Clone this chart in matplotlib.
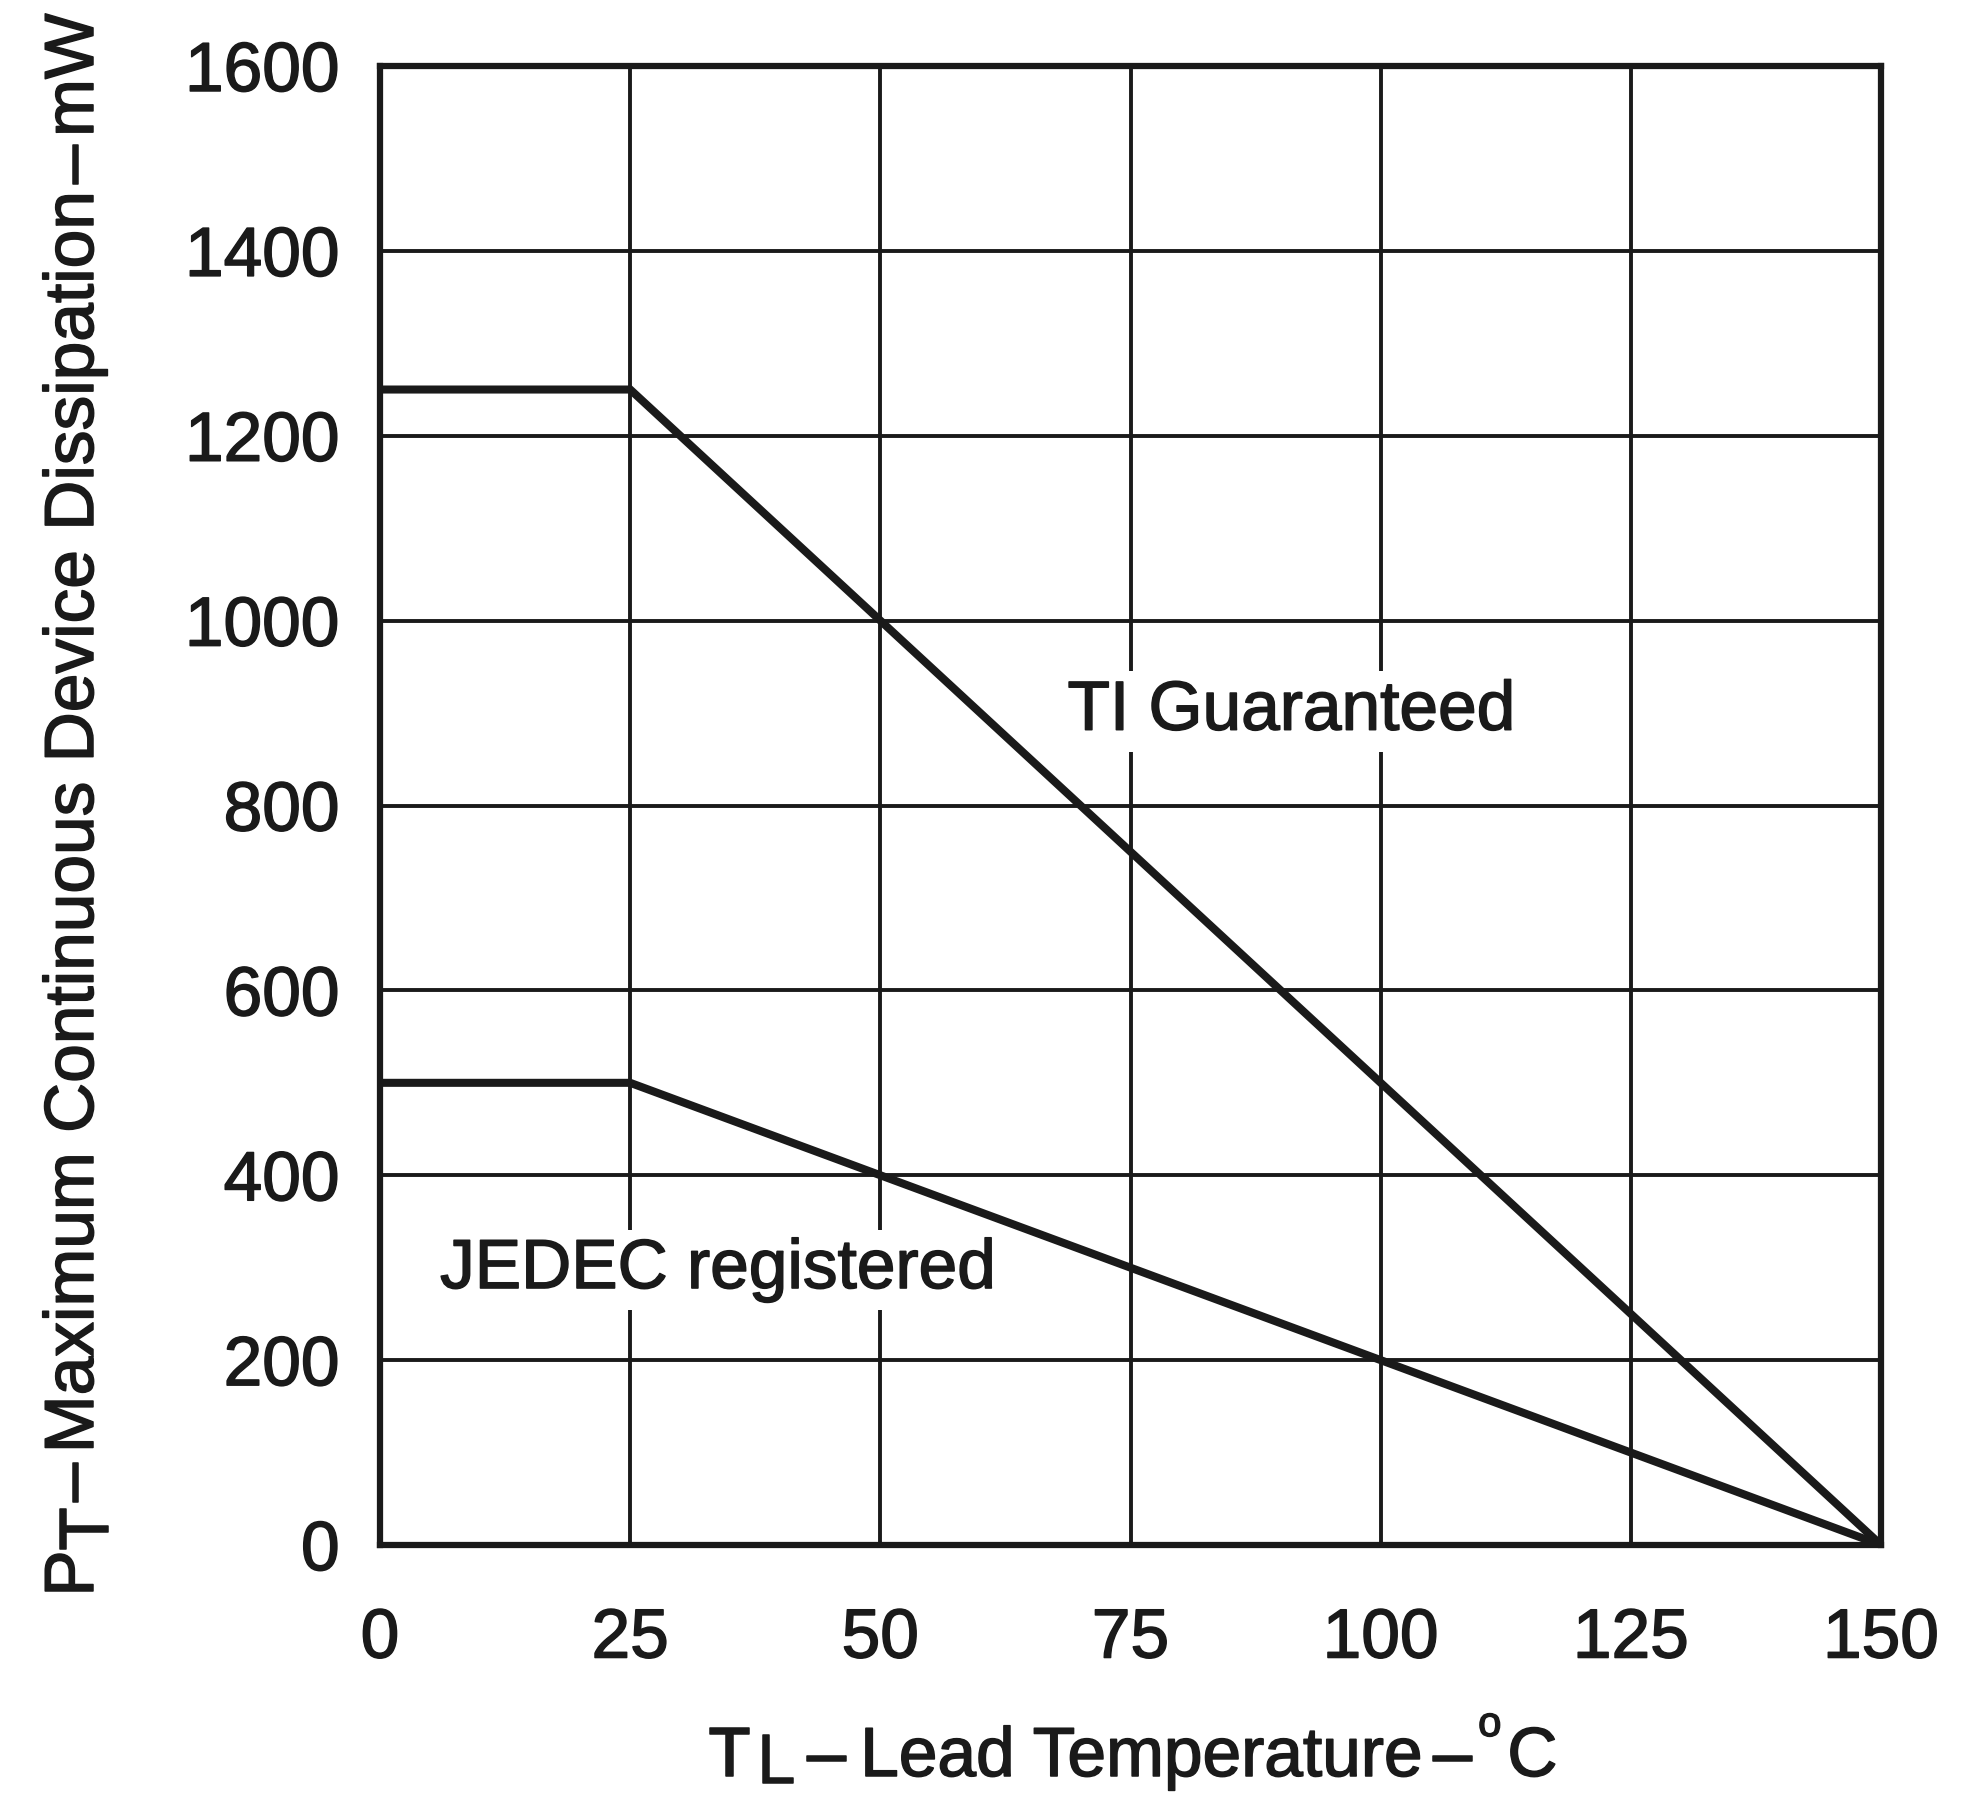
"""
Power dissipation derating curve vs lead temperature
"""

from matplotlib import pyplot as plt
from matplotlib import patheffects

# Curve data
temp_c = [0, 25, 150]
ti_guaranteed_mw = [1250, 1250, 0]
jedec_registered_mw = [500, 500, 0]

x_ticks = [0, 25, 50, 75, 100, 125, 150]
y_ticks = [0, 200, 400, 600, 800, 1000, 1200, 1400, 1600]

INK = '#1a1a1a'
FS = 50
# Slightly heavier glyphs, like the printed original
BOLDER = [patheffects.withStroke(linewidth=1.1, foreground=INK)]


def rich_label(fig, pieces, center, baseline, vertical=False):
    """Write a label made of pieces (text, size, shift_px, gap_px).

    Positions are image pixels measured from the top left corner.
    A positive shift lowers the piece (subscript), a negative one raises it.
    """
    renderer = fig.canvas.get_renderer()
    W, H = fig.bbox.width, fig.bbox.height
    widths = []
    for s, size, shift, gap in pieces:
        t = fig.text(0, 0, s, fontsize=size)
        widths.append(t.get_window_extent(renderer).width + gap)
        t.remove()
    total = sum(widths)

    pos = center - total / 2 if not vertical else center + total / 2
    for (s, size, shift, gap), w in zip(pieces, widths):
        if vertical:
            x, y, rot = baseline + shift, pos, 90
            pos -= w
        else:
            x, y, rot = pos, baseline + shift, 0
            pos += w
        fig.text(x / W, 1 - y / H, s, fontsize=size, color=INK, rotation=rot,
                 rotation_mode='anchor', ha='left', va='baseline',
                 path_effects=BOLDER)


if __name__ == '__main__':
    plt.rcParams['font.family'] = ['Liberation Sans', 'DejaVu Sans']

    fig = plt.figure(figsize=(19.66, 17.98), dpi=100)
    ax = fig.add_axes([0.1933, 0.1407, 0.7635, 0.8226])

    # Curves
    ax.plot(temp_c, ti_guaranteed_mw, color=INK, lw=5.8, solid_joinstyle='miter', zorder=3)
    ax.plot(temp_c, jedec_registered_mw, color=INK, lw=5.8, solid_joinstyle='miter', zorder=3)

    # Axis limits and ticks
    ax.set_xlim(x_ticks[0], x_ticks[-1])
    ax.set_ylim(y_ticks[0], y_ticks[-1])
    ax.set_xticks(x_ticks)
    ax.set_yticks(y_ticks)
    ax.tick_params(axis='both', length=0, labelsize=FS, colors=INK)
    ax.tick_params(axis='x', pad=45)
    ax.tick_params(axis='y', pad=29)
    for lbl in ax.get_xticklabels() + ax.get_yticklabels():
        lbl.set_path_effects(BOLDER)

    # Grid
    ax.grid(True, color=INK, lw=2.8)
    ax.set_axisbelow(True)
    for s in ax.spines.values():
        s.set_linewidth(4.5)
        s.set_color(INK)

    # Curve labels (break the grid lines behind them)
    box = dict(boxstyle='square,pad=0.12', facecolor='white', edgecolor='none')
    t1 = ax.text(68.7, 882, 'TI Guaranteed', fontsize=FS, color=INK, ha='left',
                 va='baseline', bbox=box, zorder=2)
    t2 = ax.text(6.0, 278, 'JEDEC registered', fontsize=FS, color=INK, ha='left',
                 va='baseline', bbox=box, zorder=2)
    t1.set_path_effects(BOLDER)
    t2.set_path_effects(BOLDER)

    # Axis labels with full size subscripts
    x_label = [('T', FS, 0, 6), ('L', FS, 7, 12), ('\u2013', FS, 0, 14),
               ('Lead Temperature', FS, 0, 10), ('\u2013', FS, 0, 6),
               ('o', 30, -40, 6), ('C', FS, 0, 0)]
    y_label = [('P', FS, 0, 0), ('T', FS, 15, 6), ('\u2013', FS, 0, 10),
               ('Maximum Continuous Device Dissipation', FS, 0, 6),
               ('\u2013', FS, 0, 8), ('mW', FS, 0, 0)]
    rich_label(fig, x_label, center=1133, baseline=1776)
    rich_label(fig, y_label, center=805, baseline=93, vertical=True)

    plt.savefig('out.png', dpi=100)
